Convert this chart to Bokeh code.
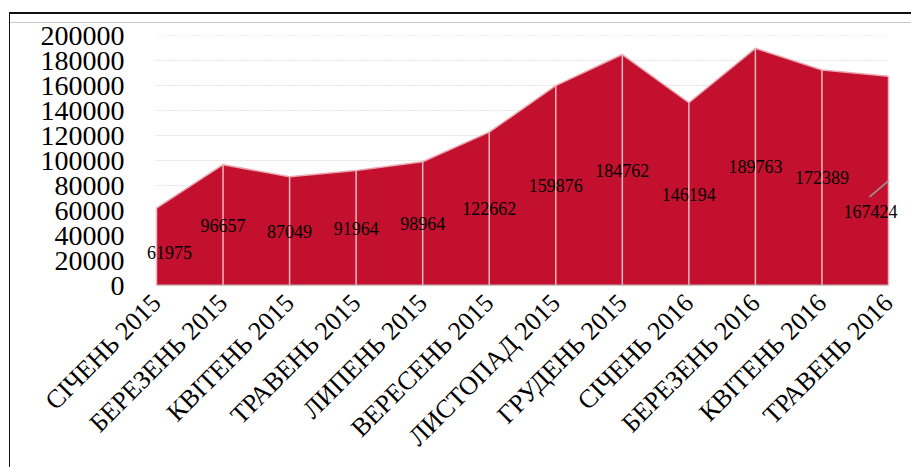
import math
from bokeh.plotting import figure
from bokeh.models import (Range1d, FixedTicker, ColumnDataSource, LabelSet,
                          Label, NumeralTickFormatter)
from bokeh.embed import file_html
from bokeh.resources import INLINE

months = ["СІЧЕНЬ 2015", "БЕРЕЗЕНЬ 2015", "КВІТЕНЬ 2015", "ТРАВЕНЬ 2015",
          "ЛИПЕНЬ 2015", "ВЕРЕСЕНЬ 2015", "ЛИСТОПАД 2015", "ГРУДЕНЬ 2015",
          "СІЧЕНЬ 2016", "БЕРЕЗЕНЬ 2016", "КВІТЕНЬ 2016", "ТРАВЕНЬ 2016"]
values = [61975, 96657, 87049, 91964, 98964, 122662, 159876, 184762,
          146194, 189763, 172389, 167424]
y_ticks = [0, 20000, 40000, 60000, 80000, 100000, 120000, 140000,
           160000, 180000, 200000]

FONT = "Liberation Serif"
RED = "#C3102E"

xs = list(range(len(months)))
halves = [v / 2 for v in values]
n = len(values)

W, H = 911, 467
# area spans x=156..888 px; frame is padded so labels are not clipped
AREA_L, AREA_R, TOP, BOTTOM = 156, 888, 35, 182
STEP = (AREA_R - AREA_L) / (n - 1)
PAD_L, PAD_R = 22, 18
px_per_y = (H - TOP - BOTTOM) / 200000

p = figure(width=W, height=H, output_backend="svg", toolbar_location=None,
           x_range=Range1d(-PAD_L / STEP, n - 1 + PAD_R / STEP),
           y_range=Range1d(0, 200000),
           min_border_left=AREA_L - PAD_L, min_border_right=W - AREA_R - PAD_R,
           min_border_top=TOP, min_border_bottom=BOTTOM)
p.outline_line_color = None
p.background_fill_color = "white"
p.border_fill_color = "white"

# outer frame lines (pure CSS, does not affect layout)
p.stylesheets = ["""
:host::before { content: ""; position: absolute; left: 9px; top: 12px;
  right: 0; bottom: -5px; border-top: 2px solid #111; border-left: 1.5px solid #111;
  pointer-events: none; z-index: 5; }
:host::after { content: ""; position: absolute; left: 10px; top: 22px;
  right: 0; height: 0; border-top: 1px solid #C8C8C8;
  pointer-events: none; z-index: 5; }
"""]

# dotted gridlines, only across the area's extent
p.segment(x0=[0] * len(y_ticks), y0=y_ticks, x1=[n - 1] * len(y_ticks),
          y1=y_ticks, line_color="#C8C8C8", line_dash="1 2", line_width=1)

# area
p.varea(x=xs, y1=[0] * n, y2=values, fill_color=RED)
p.line(x=xs, y=values, line_color="#E9A7B0", line_width=1.5)
p.segment(x0=xs, y0=[0] * n, x1=xs, y1=values,
          line_color="#F0B8C0", line_width=1.5)
# bottom edge
p.segment(x0=[0], y0=[0], x1=[n - 1], y1=[0], line_color="#BFBFBF",
          line_width=2)

# data labels (centered at half height)
src = ColumnDataSource(dict(x=xs[1:-1], y=halves[1:-1],
                            t=[str(v) for v in values[1:-1]]))
p.add_layout(LabelSet(x="x", y="y", text="t", source=src,
                      text_align="center", text_baseline="middle",
                      text_font=FONT, text_font_size="18px",
                      text_color="black"))

# first label nudged inside the area
p.add_layout(Label(x=xs[0] + 13 / STEP, y=halves[0] - 6 / px_per_y,
                   text=str(values[0]), text_align="center",
                   text_baseline="middle", text_font=FONT,
                   text_font_size="18px", text_color="black"))

# last label moved, with a leader line
p.add_layout(Label(x=xs[-1] - 18 / STEP, y=halves[-1] - 31 / px_per_y,
                   text=str(values[-1]), text_align="center",
                   text_baseline="middle", text_font=FONT,
                   text_font_size="18px", text_color="black"))
p.segment(x0=[xs[-1]], y0=[halves[-1]],
          x1=[xs[-1] - 19 / STEP], y1=[halves[-1] - 16 / px_per_y],
          line_color="#9A9A9A", line_width=1.5)

# axes
p.xaxis.ticker = FixedTicker(ticks=xs)
p.xaxis.major_label_overrides = {i: m for i, m in enumerate(months)}
p.xaxis.major_label_orientation = math.pi / 4
p.xaxis.major_label_text_font = FONT
p.xaxis.major_label_text_font_size = "26px"
p.xaxis.major_label_text_color = "black"
p.xaxis.major_label_standoff = 7
p.xaxis.axis_line_color = None
p.xaxis.major_tick_line_color = None
p.xaxis.minor_tick_line_color = None

p.yaxis.ticker = FixedTicker(ticks=y_ticks)
p.yaxis.formatter = NumeralTickFormatter(format="0")
p.yaxis.major_label_text_font = FONT
p.yaxis.major_label_text_font_size = "28px"
p.yaxis.major_label_text_color = "black"
p.yaxis.major_label_standoff = max(AREA_L - PAD_L - 130, 0)
p.yaxis.axis_line_color = None
p.yaxis.major_tick_line_color = None
p.yaxis.minor_tick_line_color = None

p.xgrid.grid_line_color = None
p.ygrid.grid_line_color = None

open("out.html", "w").write(file_html(p, INLINE))
